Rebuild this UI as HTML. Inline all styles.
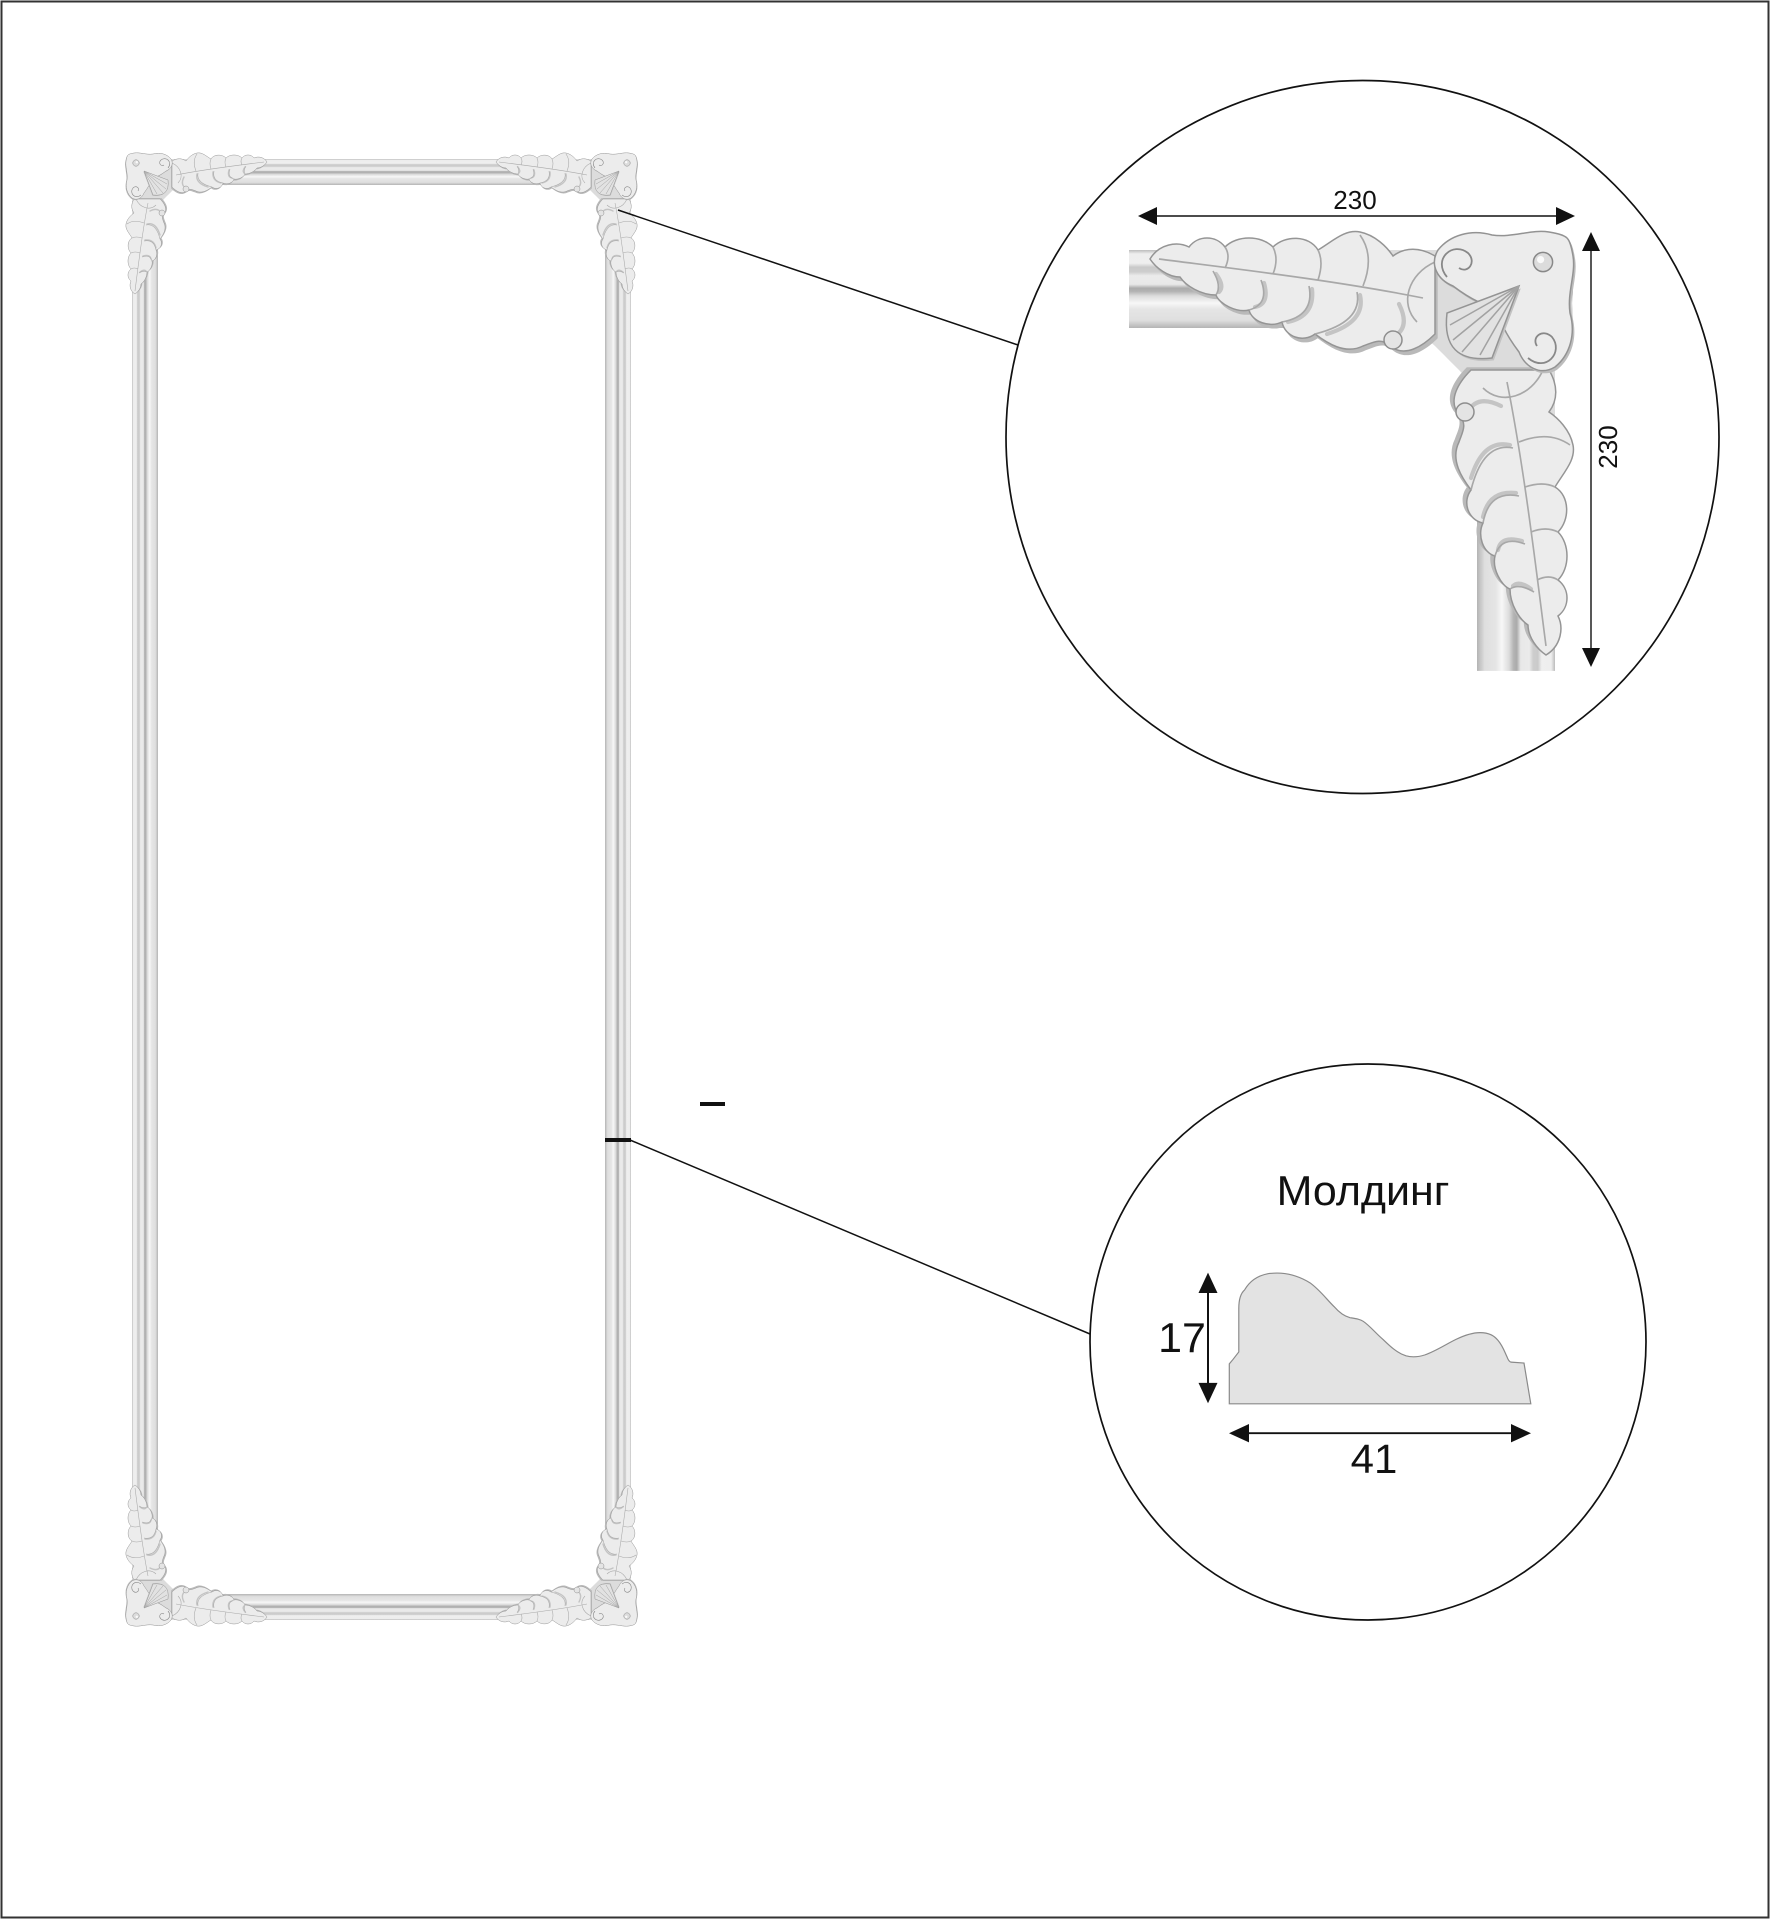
<!DOCTYPE html>
<html>
<head>
<meta charset="utf-8">
<style>
html,body{margin:0;padding:0;background:#fff;width:1771px;height:1920px;overflow:hidden}
svg{display:block}
text{font-family:"Liberation Sans", Arial, sans-serif;fill:#111}
</style>
</head>
<body>
<svg width="1771" height="1920" viewBox="0 0 1771 1920" xmlns="http://www.w3.org/2000/svg">
<defs>
  <linearGradient id="gT" x1="0" y1="0" x2="0" y2="1">
    <stop offset="0" stop-color="#bcbcbc"/>
    <stop offset="0.05" stop-color="#eeeeee"/>
    <stop offset="0.17" stop-color="#efefef"/>
    <stop offset="0.22" stop-color="#cacaca"/>
    <stop offset="0.28" stop-color="#cdcdcd"/>
    <stop offset="0.33" stop-color="#ebebeb"/>
    <stop offset="0.44" stop-color="#e8e8e8"/>
    <stop offset="0.49" stop-color="#ababab"/>
    <stop offset="0.53" stop-color="#b3b3b3"/>
    <stop offset="0.59" stop-color="#dcdcdc"/>
    <stop offset="0.68" stop-color="#f7f7f7"/>
    <stop offset="0.76" stop-color="#e5e5e5"/>
    <stop offset="0.9" stop-color="#dfdfdf"/>
    <stop offset="1" stop-color="#b4b4b4"/>
  </linearGradient>
  <linearGradient id="gB" href="#gT" x1="0" y1="1" x2="0" y2="0"/>
  <linearGradient id="gL" href="#gT" x1="0" y1="0" x2="1" y2="0"/>
  <linearGradient id="gR" href="#gT" x1="1" y1="0" x2="0" y2="0"/>

  <g id="sprayHalf">
    <path transform="translate(0.9,1.4)" fill="#b9b9b9" d="M -141,9 C -138,4 -132,3 -128,5 C -125,1 -119,1 -116,5 C -112,1 -104,1 -100,5 C -96,1 -88,1 -85,6 C -80,3 -76,-1 -71,0 C -66,1 -62,5 -60,8 C -56,5 -51,5 -46,8 L -46,34 C -50,38 -56,42 -61,38 C -64,35 -67,37 -70,38 C -76,41 -82,37 -86,34 C -90,37 -96,35 -97,30 C -101,32 -107,30 -108,26 C -112,27 -118,24 -119,21 C -124,21 -129,18 -131,15 C -135,15 -139,12 -141,9 Z"/>
    <path fill="#ececec" stroke="#959595" stroke-width="0.5" d="M -141,9 C -138,4 -132,3 -128,5 C -125,1 -119,1 -116,5 C -112,1 -104,1 -100,5 C -96,1 -88,1 -85,6 C -80,3 -76,-1 -71,0 C -66,1 -62,5 -60,8 C -56,5 -51,5 -46,8 L -46,34 C -50,38 -56,42 -61,38 C -64,35 -67,37 -70,38 C -76,41 -82,37 -86,34 C -90,37 -96,35 -97,30 C -101,32 -107,30 -108,26 C -112,27 -118,24 -119,21 C -124,21 -129,18 -131,15 C -135,15 -139,12 -141,9 Z"/>
    <g fill="none" stroke="#c4c4c4" stroke-width="1.4" stroke-linecap="round">
      <path d="M -119,14 Q -116,18 -118,20"/>
      <path d="M -103,17 Q -101,24 -106,25"/>
      <path d="M -87,19 Q -86,28 -95,30"/>
      <path d="M -71,21 Q -69,30 -82,34"/>
      <path d="M -58,24 Q -54,32 -60,35"/>
    </g>
    <g fill="none" stroke="#a8a8a8" stroke-width="0.55">
      <path d="M -138,9 C -115,12 -80,16 -50,22"/>
      <path d="M -120,13 Q -117,18 -119,21"/>
      <path d="M -104,16 Q -101,24 -108,26"/>
      <path d="M -88,18 Q -86,28 -97,30"/>
      <path d="M -72,20 Q -70,30 -86,34"/>
      <path d="M -116,12 Q -114,8 -116,5"/>
      <path d="M -100,14 Q -98,9 -100,5"/>
      <path d="M -85,16 Q -83,10 -85,6"/>
      <path d="M -70,18 Q -66,8 -71,1"/>
      <path d="M -46,10 C -55,14 -58,24 -52,30"/>
    </g>
    <circle cx="-60" cy="36" r="3" fill="#e4e4e4" stroke="#8e8e8e" stroke-width="0.5"/>
  </g>

  <path id="plateCurl" fill="none" stroke="#888" stroke-width="0.6" d="M -42,15 C -47,9 -40,3 -35,7 C -32,10 -35,14 -38,12"/>

  <g id="orn">
    <path fill="#dcdcdc" d="M -64,30 C -56,32 -50,34 -46,38 C -43,41 -41,43 -38,46 C -34,50 -32,56 -30,64 L -6,64 L -6,6 L -64,6 Z"/>
    <use href="#sprayHalf"/>
    <use href="#sprayHalf" transform="matrix(0,-1,-1,0,0,0)"/>
    <path fill="#bdbdbd" transform="translate(0.7,0.9)" d="M -25,25 C -30,25 -36,21 -40,18 C -45,16 -48,11 -45,6 C -41,1 -34,-1 -27,1 C -20,2 -14,-1 -8,0 C -5,0.5 -3,1 -2,2 C -1,3 -0.5,5 0,8 C 1,14 -2,20 -1,27 C 1,34 -1,41 -6,45 C -11,48 -16,45 -18,40 C -21,36 -25,30 -25,25 Z"/>
    <path fill="#ececec" stroke="#939393" stroke-width="0.5" d="M -25,25 C -30,25 -36,21 -40,18 C -45,16 -48,11 -45,6 C -41,1 -34,-1 -27,1 C -20,2 -14,-1 -8,0 C -5,0.5 -3,1 -2,2 C -1,3 -0.5,5 0,8 C 1,14 -2,20 -1,27 C 1,34 -1,41 -6,45 C -11,48 -16,45 -18,40 C -21,36 -25,30 -25,25 Z"/>
    <use href="#plateCurl"/>
    <use href="#plateCurl" transform="matrix(0,-1,-1,0,0,0)"/>
    <path fill="#c2c2c2" transform="translate(0.6,0.8)" d="M -18,18 L -42,27 Q -44,44 -27,42 Z"/>
    <path fill="#e2e2e2" stroke="#949494" stroke-width="0.5" d="M -18,18 L -42,27 Q -44,44 -27,42 Z"/>
    <g fill="none" stroke="#a2a2a2" stroke-width="0.5">
      <path d="M -18,18 L -41,31"/>
      <path d="M -18,18 L -40,36"/>
      <path d="M -18,18 L -37,40"/>
      <path d="M -18,18 L -31,41"/>
    </g>
    <circle cx="-10" cy="10" r="3.2" fill="#dcdcdc" stroke="#888" stroke-width="0.5"/>
    <circle cx="-10.8" cy="9.2" r="1.2" fill="#fafafa"/>
  </g>
</defs>

<!-- page border -->
<rect x="1.5" y="1.5" width="1767" height="1916" fill="none" stroke="#333" stroke-width="2"/>

<!-- main frame rails -->
<rect x="132" y="159" width="499" height="26" fill="url(#gT)"/>
<rect x="132" y="1594" width="499" height="26" fill="url(#gB)"/>
<rect x="132" y="159" width="26" height="1461" fill="url(#gL)"/>
<rect x="605" y="159" width="26" height="1461" fill="url(#gR)"/>

<!-- corner ornaments -->
<use href="#orn" transform="translate(637,153)"/>
<use href="#orn" transform="translate(126,153) scale(-1,1)"/>
<use href="#orn" transform="translate(637,1626) scale(1,-1)"/>
<use href="#orn" transform="translate(126,1626) scale(-1,-1)"/>

<!-- markers -->
<rect x="605" y="1138" width="26" height="4" fill="#111"/>
<rect x="700" y="1102" width="25" height="4" fill="#111"/>

<!-- connectors -->
<line x1="618" y1="210" x2="1018" y2="345" stroke="#111" stroke-width="1.5"/>
<line x1="630" y1="1140" x2="1090" y2="1334" stroke="#111" stroke-width="1.5"/>

<!-- circles -->
<circle cx="1362.5" cy="437" r="356.5" fill="none" stroke="#111" stroke-width="1.7"/>
<circle cx="1368" cy="1342" r="278" fill="none" stroke="#111" stroke-width="1.7"/>

<!-- detail corner -->
<g transform="translate(1573,232) scale(3)">
  <rect x="-148" y="6" width="148" height="26" fill="url(#gT)"/>
  <rect x="-32" y="6" width="26" height="140.3" fill="url(#gR)"/>
  <use href="#orn"/>
</g>

<!-- detail dimensions -->
<line x1="1152" y1="216" x2="1561" y2="216" stroke="#111" stroke-width="1.4"/>
<polygon points="1138,216 1157,207 1157,225" fill="#111"/>
<polygon points="1575,216 1556,207 1556,225" fill="#111"/>
<line x1="1591" y1="246" x2="1591" y2="653" stroke="#111" stroke-width="1.4"/>
<polygon points="1591,232 1582,251 1600,251" fill="#111"/>
<polygon points="1591,667 1582,648 1600,648" fill="#111"/>
<text x="1355" y="209" font-size="26" text-anchor="middle">230</text>
<text transform="translate(1617,447) rotate(-90)" font-size="26" text-anchor="middle">230</text>

<!-- molding -->
<g transform="translate(0,33.96) scale(1,0.967)">
<text x="1363" y="1211" font-size="43" text-anchor="middle">Молдинг</text>
<path fill="#e3e3e3" stroke="#8a8a8a" stroke-width="1.2" d="M 1229.3,1416.6 L 1229.3,1375.3 L 1233,1370.7 L 1238.8,1363 L 1238.8,1318 C 1238.8,1308 1241,1302 1244.6,1298.8 C 1250,1289 1258,1284 1268,1282 C 1274,1281.2 1278,1281.3 1281,1281.5 C 1294,1282.5 1303,1287 1310,1291.5 C 1320,1299 1327,1309 1334,1316 C 1339,1322 1344,1326 1350,1327.5 C 1356,1328.5 1360,1329 1363.2,1331.3 C 1370,1336 1376,1344 1383,1350 C 1390,1357 1397,1364 1406,1367 C 1413,1369 1419,1368 1425,1366 C 1436,1362 1446,1355 1456,1350 C 1464,1346 1472,1343 1480,1343 C 1489,1343 1494,1346 1498,1351 C 1503,1357 1505,1364 1507,1368 C 1508,1371 1509,1373 1511,1373.5 L 1524,1374.5 L 1530.8,1416.6 Z"/>
<line x1="1208" y1="1298" x2="1208" y2="1399" stroke="#111" stroke-width="2"/>
<polygon points="1208,1281 1198.5,1302 1217.5,1302" fill="#111"/>
<polygon points="1208,1416 1198.5,1395 1217.5,1395" fill="#111"/>
<text x="1182" y="1363" font-size="43" text-anchor="middle">17</text>
<line x1="1245" y1="1447" x2="1515" y2="1447" stroke="#111" stroke-width="2"/>
<polygon points="1229,1447 1249,1437.5 1249,1456.5" fill="#111"/>
<polygon points="1531,1447 1511,1437.5 1511,1456.5" fill="#111"/>
<text x="1374" y="1488" font-size="42" text-anchor="middle">41</text>
</g>
</svg>
</body>
</html>
